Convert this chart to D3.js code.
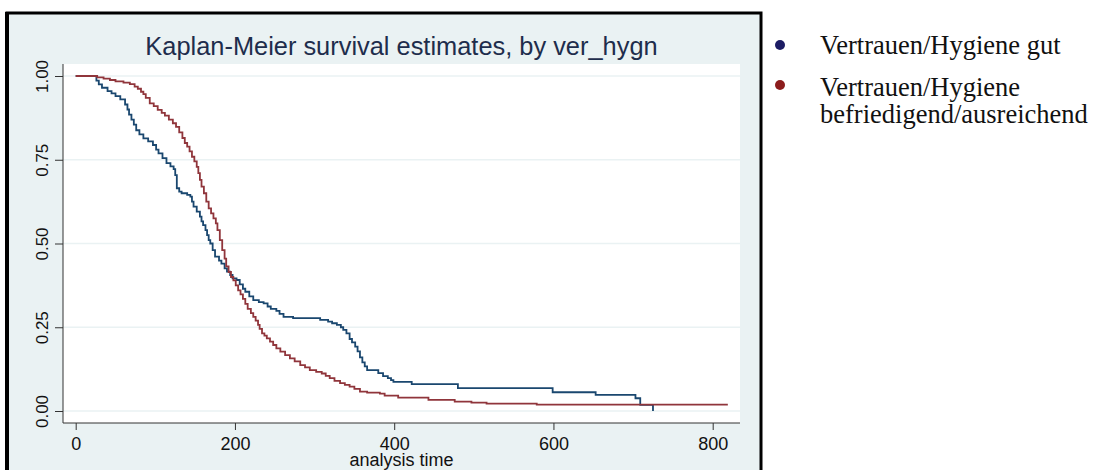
<!DOCTYPE html>
<html lang="en">
<head>
<meta charset="UTF-8">
<title>Kaplan-Meier survival estimates</title>
<script src="https://cdn.jsdelivr.net/npm/d3@7/dist/d3.min.js"></script>
<style>
  body { margin: 0; background: #fff; }
  svg { display: block; }
</style>
</head>
<body>
<div id="chart"></div>
<script>
// step points (time, survival)
const gutTime = [0, 26, 29, 33, 40, 45, 50, 56, 62, 65, 67, 70, 73, 76, 80, 85, 91, 97, 101, 104, 109, 114, 119, 123, 125, 127, 130, 133, 140, 144, 146, 148, 152, 156, 158, 160, 163, 165, 167, 169, 172, 175, 180, 183, 187, 190, 194, 197, 202, 206, 210, 213, 218, 223, 230, 236, 241, 245, 252, 256, 261, 273, 307, 317, 322, 328, 333, 336, 340, 344, 347, 351, 354, 357, 360, 363, 366, 380, 386, 392, 396, 399, 422, 480, 599, 653, 703, 709, 725];
const gutSurv = [1, 0.986, 0.975, 0.965, 0.955, 0.948, 0.94, 0.93, 0.915, 0.9, 0.885, 0.87, 0.855, 0.838, 0.826, 0.814, 0.805, 0.794, 0.78, 0.769, 0.755, 0.74, 0.73, 0.722, 0.704, 0.665, 0.655, 0.65, 0.645, 0.64, 0.625, 0.61, 0.595, 0.58, 0.566, 0.555, 0.54, 0.525, 0.51, 0.5, 0.48, 0.461, 0.449, 0.44, 0.426, 0.416, 0.406, 0.396, 0.391, 0.378, 0.365, 0.356, 0.342, 0.331, 0.325, 0.321, 0.312, 0.305, 0.299, 0.29, 0.281, 0.277, 0.272, 0.267, 0.262, 0.257, 0.25, 0.242, 0.232, 0.215, 0.205, 0.192, 0.178, 0.16, 0.145, 0.133, 0.122, 0.113, 0.104, 0.098, 0.092, 0.087, 0.08, 0.068, 0.056, 0.048, 0.038, 0.018, 0];

const befTime = [0, 27, 35, 43, 50, 60, 68, 74, 78, 82, 85, 88, 93, 98, 103, 108, 112, 117, 122, 126, 130, 134, 137, 140, 143, 146, 149, 152, 154, 156, 158, 161, 164, 167, 170, 173, 176, 178, 181, 184, 187, 189, 192, 195, 198, 201, 204, 207, 210, 213, 216, 220, 223, 226, 229, 231, 234, 237, 240, 244, 248, 252, 257, 263, 269, 275, 282, 288, 294, 302, 309, 314, 319, 325, 332, 338, 344, 350, 357, 366, 382, 388, 405, 443, 476, 497, 516, 579, 819];
const befSurv = [1, 0.996, 0.992, 0.988, 0.984, 0.98, 0.976, 0.968, 0.962, 0.953, 0.946, 0.935, 0.918, 0.91, 0.899, 0.89, 0.882, 0.87, 0.859, 0.848, 0.832, 0.815, 0.8, 0.789, 0.775, 0.759, 0.745, 0.729, 0.71, 0.69, 0.67, 0.65, 0.625, 0.605, 0.59, 0.575, 0.56, 0.54, 0.51, 0.48, 0.455, 0.432, 0.415, 0.4, 0.39, 0.375, 0.36, 0.348, 0.335, 0.32, 0.305, 0.292, 0.281, 0.27, 0.257, 0.245, 0.232, 0.225, 0.217, 0.207, 0.197, 0.187, 0.177, 0.167, 0.157, 0.148, 0.137, 0.13, 0.122, 0.117, 0.112, 0.105, 0.098, 0.09, 0.083, 0.078, 0.073, 0.066, 0.058, 0.055, 0.052, 0.046, 0.04, 0.033, 0.028, 0.025, 0.022, 0.019, 0.019];

const xTicks = [0, 200, 400, 600, 800];
const yTicks = [0, 0.25, 0.5, 0.75, 1];
const seriesNames = ["Vertrauen/Hygiene gut", "Vertrauen/Hygiene befriedigend/ausreichend"];
const lineColors = ["#1a476f", "#90353b"];
const dotColors = ["#1c1c64", "#8c1c1c"];

const W = 1093, H = 470;
const svg = d3.select("#chart").append("svg")
  .attr("width", W)
  .attr("height", H);

// graph region with thick black frame
svg.append("rect")
  .attr("x", 7).attr("y", 13)
  .attr("width", 754).attr("height", 470)
  .attr("fill", "#eaf2f3")
  .attr("stroke", "#000").attr("stroke-width", 3);
svg.append("line")
  .attr("x1", 7).attr("x2", 7).attr("y1", 12).attr("y2", H)
  .attr("stroke", "#000").attr("stroke-width", 4);

const plot = { left: 63, right: 740, top: 64, bottom: 423 };

const x = d3.scaleLinear().domain([0, 800]).range([75.7, 712.7]);
const y = d3.scaleLinear().domain([0, 1]).range([411, 76]);

svg.append("rect")
  .attr("x", plot.left).attr("y", plot.top)
  .attr("width", plot.right - plot.left).attr("height", plot.bottom - plot.top)
  .attr("fill", "#fff");

// gridlines
svg.append("g").selectAll("line")
  .data(yTicks).join("line")
  .attr("x1", plot.left).attr("x2", plot.right)
  .attr("y1", d => y(d)).attr("y2", d => y(d))
  .attr("stroke", "#eaf2f3").attr("stroke-width", 1.5);

// title
svg.append("text")
  .attr("x", (plot.left + plot.right) / 2).attr("y", 55)
  .attr("text-anchor", "middle")
  .attr("font-family", "Liberation Sans, Arial, sans-serif")
  .attr("font-size", 25.4)
  .attr("fill", "#1e2d4c")
  .text("Kaplan-Meier survival estimates, by ver_hygn");

// y axis
const yAxis = d3.axisLeft(y).tickValues(yTicks).tickFormat(d3.format(".2f")).tickSize(8).tickSizeOuter(0);
const gy = svg.append("g").attr("transform", `translate(${plot.left},0)`).call(yAxis);
gy.select(".domain").attr("d", `M0,${plot.top}V${plot.bottom}`).attr("stroke", "#333");
gy.selectAll(".tick line").attr("stroke", "#333");
gy.selectAll(".tick text")
  .attr("font-family", "Liberation Sans, Arial, sans-serif")
  .attr("font-size", 17)
  .attr("fill", "#111")
  .attr("x", null).attr("dy", null)
  .attr("text-anchor", "middle")
  .attr("transform", "translate(-15,0) rotate(-90)");

// x axis
const xAxis = d3.axisBottom(x).tickValues(xTicks).tickSize(7).tickSizeOuter(0);
const gx = svg.append("g").attr("transform", `translate(0,${plot.bottom})`).call(xAxis);
gx.select(".domain").attr("d", `M${plot.left},0H${plot.right}`).attr("stroke", "#333");
gx.selectAll(".tick line").attr("stroke", "#333");
gx.selectAll(".tick text")
  .attr("font-family", "Liberation Sans, Arial, sans-serif")
  .attr("font-size", 18)
  .attr("fill", "#111")
  .attr("dy", null)
  .attr("y", 27);

svg.append("text")
  .attr("x", (plot.left + plot.right) / 2).attr("y", 466)
  .attr("text-anchor", "middle")
  .attr("font-family", "Liberation Sans, Arial, sans-serif")
  .attr("font-size", 18)
  .attr("fill", "#111")
  .text("analysis time");

// survival curves
const line = d3.line()
  .x(d => x(d[0]))
  .y(d => y(d[1]))
  .curve(d3.curveStepAfter);

const series = [d3.zip(gutTime, gutSurv), d3.zip(befTime, befSurv)];
svg.append("g").selectAll("path")
  .data(series).join("path")
  .attr("d", line)
  .attr("fill", "none")
  .attr("stroke", (d, i) => lineColors[i])
  .attr("stroke-width", 1.8);

// legend
const legend = svg.append("g")
  .attr("font-family", "Liberation Serif, Times New Roman, serif")
  .attr("font-size", 26.5)
  .attr("fill", "#111");

legend.append("circle").attr("cx", 780).attr("cy", 45).attr("r", 5).attr("fill", dotColors[0]);
legend.append("circle").attr("cx", 780).attr("cy", 85).attr("r", 5).attr("fill", dotColors[1]);

legend.append("text").attr("x", 820).attr("y", 54).text(seriesNames[0]);
const t2 = legend.append("text").attr("x", 820).attr("y", 96);
const parts = seriesNames[1].split(" ");
t2.append("tspan").attr("x", 820).text(parts[0]);
t2.append("tspan").attr("x", 820).attr("dy", 27).text(parts[1]);
</script>
</body>
</html>
